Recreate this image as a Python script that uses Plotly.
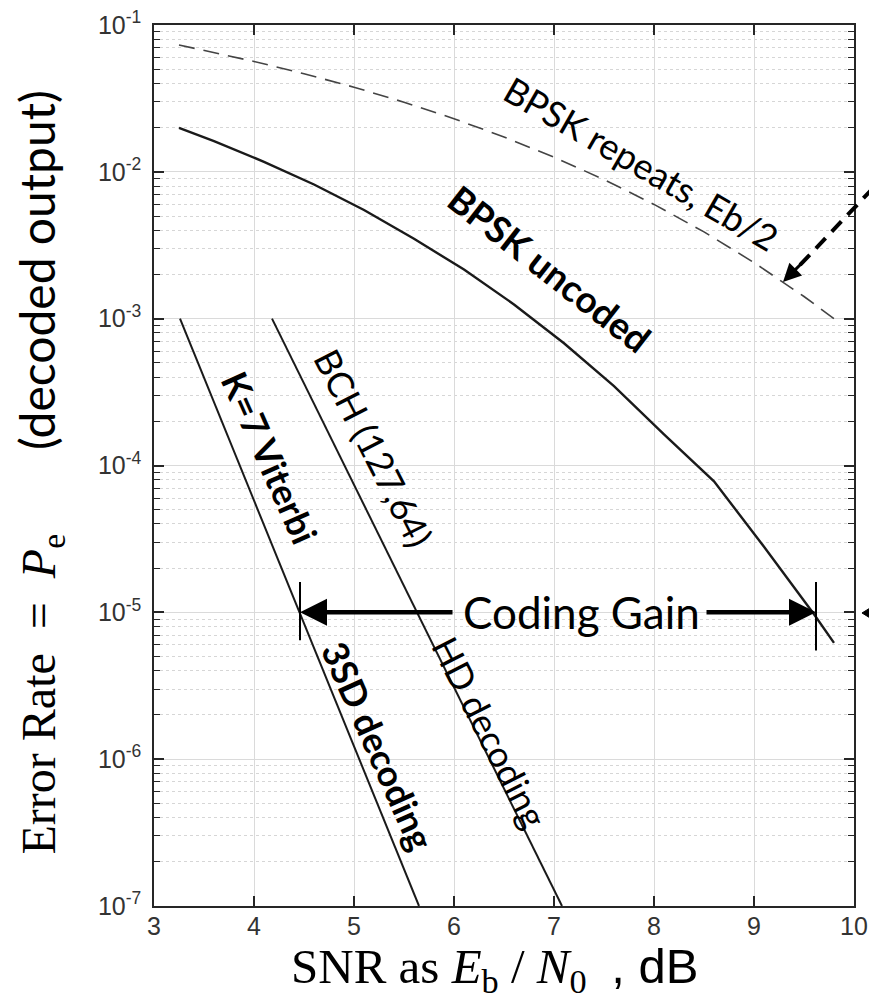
import plotly.graph_objects as go

# ---------------- data ----------------
snr_uncoded = [3.25, 3.6, 4.1, 4.6, 5.1, 5.6, 6.1, 6.6, 7.1, 7.6, 8.1, 8.6, 9.1, 9.6, 9.8]
pe_uncoded = [0.0199, 0.0162, 0.0117, 0.0082, 0.0055, 0.0035, 0.00216, 0.00125,
              0.00068, 0.000347, 0.000163, 0.000078, 0.000028, 0.0000097, 0.0000062]

snr_repeat = [3.25, 4.0, 4.5, 5.0, 5.5, 6.0, 6.5, 7.0, 7.5, 8.0, 8.5, 9.0, 9.5, 9.8]
pe_repeat = [0.0731, 0.0565, 0.0466, 0.0377, 0.0298, 0.0230, 0.01728, 0.01259,
             0.00886, 0.0060, 0.0039, 0.00241, 0.001416, 0.00100]

snr_viterbi = [3.26, 5.65]
pe_viterbi = [1e-3, 1e-7]

snr_bch = [4.18, 7.08]
pe_bch = [1e-3, 1e-7]

gain_bar_x = [4.46, 9.62]
gain_bar_top = [1.61e-5, 1.61e-5]
gain_bar_bottom = [6.45e-6, 5.5e-6]

x_ticks = [3, 4, 5, 6, 7, 8, 9, 10]
y_ticks = [1e-1, 1e-2, 1e-3, 1e-4, 1e-5, 1e-6, 1e-7]
y_tick_labels = ["10<sup>-1</sup>", "10<sup>-2</sup>", "10<sup>-3</sup>", "10<sup>-4</sup>",
                 "10<sup>-5</sup>", "10<sup>-6</sup>", "10<sup>-7</sup>"]

# ---------------- figure ----------------
fig = go.Figure()

fig.add_trace(go.Scatter(x=snr_repeat, y=pe_repeat, mode="lines",
                         line=dict(color="#444444", width=1.6, dash="16px,9px"),
                         showlegend=False, hoverinfo="skip"))
fig.add_trace(go.Scatter(x=snr_uncoded, y=pe_uncoded, mode="lines",
                         line=dict(color="#1a1a1a", width=2.4),
                         showlegend=False, hoverinfo="skip"))
fig.add_trace(go.Scatter(x=snr_viterbi, y=pe_viterbi, mode="lines",
                         line=dict(color="#1a1a1a", width=2),
                         showlegend=False, hoverinfo="skip"))
fig.add_trace(go.Scatter(x=snr_bch, y=pe_bch, mode="lines",
                         line=dict(color="#1a1a1a", width=2),
                         showlegend=False, hoverinfo="skip"))
for bx, bt, bb in zip(gain_bar_x, gain_bar_top, gain_bar_bottom):
    fig.add_trace(go.Scatter(x=[bx, bx], y=[bt, bb], mode="lines",
                             line=dict(color="black", width=2),
                             showlegend=False, hoverinfo="skip"))

minor_vals = []
for e in range(-7, 0):
    for k in range(2, 10):
        v = k * 10.0 ** e
        if v < 0.1:
            minor_vals.append(v)

axis_col = "#262626"
tick_font = dict(family="Liberation Sans", size=25, color="#333333")
fig.update_xaxes(range=[3, 10], tickmode="array", tickvals=x_ticks,
                 ticks="inside", ticklen=10, tickwidth=1.5, tickcolor=axis_col,
                 showline=True, linecolor=axis_col, linewidth=1.5, mirror="ticks",
                 showgrid=True, gridcolor="#dadada", gridwidth=1.2, zeroline=False,
                 tickfont=tick_font, ticklabelstandoff=-3, automargin=False,
                 ticklabeloverflow="allow")
fig.update_yaxes(type="log", range=[-7, -1], tickmode="array", tickvals=y_ticks,
                 ticktext=y_tick_labels,
                 ticks="inside", ticklen=10, tickwidth=1.5, tickcolor=axis_col,
                 showline=True, linecolor=axis_col, linewidth=1.5, mirror="ticks",
                 showgrid=True, gridcolor="#dadada", gridwidth=1.2, zeroline=False,
                 tickfont=tick_font, ticklabelstandoff=6, automargin=False,
                 ticklabeloverflow="allow",
                 minor=dict(tickmode="array", tickvals=minor_vals, ticks="inside",
                            ticklen=6, tickwidth=1.2, tickcolor=axis_col,
                            showgrid=True, gridcolor="#d6d6d6", griddash="dot",
                            gridwidth=1))

ann = []
lab_font = "Lato"
ann.append(dict(x=7.87, y=-1.94, xref="x", yref="y", text="BPSK repeats, Eb/2",
                textangle=30, showarrow=False, font=dict(family=lab_font, size=36, color="black")))
ann.append(dict(x=6.96, y=-2.655, xref="x", yref="y", text="<b>BPSK uncoded</b>",
                textangle=38, showarrow=False, font=dict(family=lab_font, size=37, color="black")))
ann.append(dict(x=5.20, y=-3.88, xref="x", yref="y", text="BCH (127,64)",
                textangle=63, showarrow=False, font=dict(family=lab_font, size=36, color="black")))
ann.append(dict(x=4.16, y=-3.94, xref="x", yref="y", text="<b>K=7 Viterbi</b>",
                textangle=66, showarrow=False, font=dict(family=lab_font, size=36, color="black")))
ann.append(dict(x=5.24, y=-5.905, xref="x", yref="y", text="<b>3SD decoding</b>",
                textangle=66, showarrow=False, font=dict(family=lab_font, size=36, color="black")))
ann.append(dict(x=6.36, y=-5.816, xref="x", yref="y", text="HD decoding",
                textangle=63, showarrow=False, font=dict(family=lab_font, size=36, color="black")))
ann.append(dict(x=7.27, y=-5.0, xref="x", yref="y", text="Coding Gain",
                showarrow=False, font=dict(family=lab_font, size=44, color="black")))
# coding gain arrows
ann.append(dict(x=4.46, y=-5.0, xref="x", yref="y", ax=6.0, ay=-5.0, axref="x", ayref="y",
                text="", showarrow=True, arrowhead=2, arrowsize=1.2, arrowwidth=4.5,
                arrowcolor="black"))
ann.append(dict(x=9.62, y=-5.0, xref="x", yref="y", ax=8.51, ay=-5.0, axref="x", ayref="y",
                text="", showarrow=True, arrowhead=2, arrowsize=1.2, arrowwidth=4.5,
                arrowcolor="black"))
# arrow pointing to dashed curve
ann.append(dict(x=9.29, y=-2.75, xref="x", yref="y", ax=22, ay=-22,
                text="", showarrow=True, arrowhead=2, arrowsize=1.2, arrowwidth=3,
                arrowcolor="black"))
# axis titles
ann.append(dict(x=-0.163, y=0.492, xref="paper", yref="paper", xanchor="center", yanchor="middle",
                textangle=-90,
                text='Error Rate&nbsp;&nbsp;=&nbsp;&nbsp;<i>P</i><sub>e</sub>&nbsp;&nbsp;&nbsp;&nbsp;&nbsp;&nbsp;&nbsp;<span style="font-family:Lato">(decoded output)</span>',
                showarrow=False, font=dict(family="Liberation Serif", size=48, color="black")))
ann.append(dict(x=0.487, y=-0.035, xref="paper", yref="paper", xanchor="center", yanchor="top",
                text='SNR as <i>E</i><sub>b</sub> / <i>N</i><sub>0</sub>&nbsp;&nbsp;<span style="font-family:Liberation Sans">, dB</span>',
                showarrow=False, font=dict(family="Liberation Serif", size=49, color="black")))

shapes = [
    # thick dashed pointer coming in from the right edge
    dict(type="line", xref="paper", yref="paper", x0=0.923, y0=0.7276, x1=1.05, y1=0.834,
         line=dict(color="black", width=4, dash="14px,9px")),
    # small arrowhead at the right edge (pointer to the 1e-5 level)
    dict(type="path", xref="paper", yref="paper",
         path="M 1.0114 0.3326 L 1.0243 0.3389 L 1.0243 0.3263 Z",
         fillcolor="black", line=dict(color="black", width=1)),
    dict(type="line", xref="paper", yref="paper", x0=1.018, y0=0.3326, x1=1.04, y1=0.3326,
         line=dict(color="black", width=1.5)),
]

fig.update_layout(width=869, height=1005,
                  margin=dict(l=154, r=15, t=25, b=99, autoexpand=False),
                  paper_bgcolor="white", plot_bgcolor="white",
                  annotations=ann, shapes=shapes, showlegend=False)

# remove the default page margin so the figure fills the window exactly
fig.write_html("out.html", config={"displayModeBar": False},
               post_script="document.body.style.margin='0';document.body.style.overflow='hidden';")
